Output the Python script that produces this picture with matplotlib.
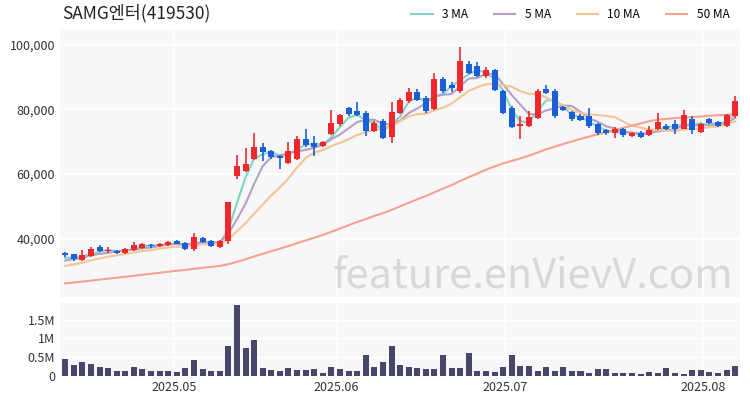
import numpy as np
import pandas as pd
import matplotlib.pyplot as plt

plt.rcParams['font.family'] = ['Noto Sans CJK KR', 'DejaVu Sans']

# closes before the visible window (only used for moving averages)
prev_closes = [20.5, 21.0, 20.8, 21.3, 21.6, 21.2, 21.9, 22.4, 22.1, 22.6, 23.0, 22.7, 23.3,
               23.6, 23.2, 23.9, 24.3, 24.0, 24.6, 24.9, 24.5, 25.2, 25.6, 25.3, 25.9, 26.2,
               25.8, 26.5, 26.9, 26.6, 27.2, 27.5, 27.1, 27.8, 28.2, 27.9, 28.5, 28.8, 28.4,
               29.1, 29.5, 29.2, 29.8, 30.3, 30.9, 31.6, 32.4, 33.2, 34.0]

opens = [35.6, 35.1, 33.4, 34.5, 37.4, 36.3, 36.2, 35.5, 36.4, 37.2, 38.0, 37.6, 38.0, 39.3,
         38.6, 36.7, 40.2, 39.2, 37.4, 39.2, 59.5, 61.0, 64.6, 68.5, 67.2, 65.6, 63.4, 64.8,
         71.0, 69.5, 68.7, 72.3, 75.4, 80.5, 79.5, 79.0, 73.3, 76.3, 71.6, 79.0, 82.6, 85.3,
         83.6, 80.2, 89.4, 87.7, 85.6, 94.1, 93.3, 90.3, 92.3, 85.6, 80.5, 74.9, 74.9, 77.4,
         86.4, 85.8, 80.8, 79.2, 78.0, 78.0, 75.4, 73.6, 72.6, 74.1, 71.8, 72.8, 72.0, 73.8,
         74.9, 75.4, 74.1, 76.9, 73.0, 77.1, 76.1, 74.9, 78.0]
closes = [34.9, 33.6, 34.9, 36.9, 36.1, 36.6, 35.7, 36.7, 38.0, 38.2, 37.6, 38.3, 38.9, 38.5,
          36.9, 40.5, 39.0, 37.8, 39.2, 51.3, 62.6, 63.1, 68.5, 66.8, 65.3, 65.0, 67.2, 71.0,
          68.9, 68.5, 69.9, 75.7, 78.2, 78.5, 78.2, 73.3, 75.9, 71.2, 79.2, 82.9, 85.3, 82.9,
          79.5, 89.4, 85.6, 86.7, 94.9, 91.3, 90.3, 92.3, 86.0, 79.0, 74.7, 75.4, 77.7, 85.6,
          85.1, 77.9, 79.8, 76.9, 76.7, 74.9, 72.8, 72.6, 73.8, 72.0, 72.6, 71.6, 73.6, 76.1,
          74.1, 73.8, 78.2, 73.6, 75.4, 75.9, 74.9, 78.2, 82.6]
highs = [35.9, 35.4, 36.6, 37.3, 38.1, 37.4, 36.5, 37.0, 39.0, 38.7, 38.3, 38.7, 39.3, 39.6,
         38.9, 41.8, 40.5, 39.5, 39.5, 51.5, 65.8, 68.0, 72.6, 69.5, 67.6, 65.9, 69.9, 71.8,
         73.8, 71.9, 70.3, 79.7, 78.6, 80.7, 82.2, 79.5, 76.5, 77.0, 82.3, 83.5, 86.5, 86.2,
         84.3, 91.4, 90.0, 88.6, 99.3, 95.0, 94.7, 93.0, 92.6, 86.0, 81.0, 78.0, 79.5, 86.4,
         87.6, 86.2, 81.2, 79.6, 78.5, 80.5, 75.8, 74.0, 74.7, 74.4, 72.9, 73.2, 74.8, 79.0,
         75.6, 76.7, 79.7, 78.0, 75.8, 77.4, 76.5, 78.7, 84.2]
lows = [34.4, 33.2, 33.0, 34.2, 35.8, 35.6, 35.4, 35.2, 36.1, 36.9, 37.2, 37.3, 37.7, 38.2,
        36.5, 36.3, 38.7, 37.5, 37.0, 38.5, 58.4, 60.6, 64.2, 64.0, 64.8, 61.6, 63.0, 64.4,
        68.5, 65.7, 68.4, 72.0, 75.0, 78.1, 77.9, 71.8, 73.0, 71.0, 69.5, 78.5, 81.9, 82.5,
        79.0, 79.8, 85.2, 85.5, 85.2, 91.0, 89.9, 89.6, 85.7, 78.6, 74.3, 71.0, 74.6, 77.0,
        84.7, 77.5, 79.4, 76.4, 76.3, 74.3, 72.2, 72.2, 71.1, 71.6, 71.6, 71.3, 71.7, 73.5,
        73.7, 72.3, 73.8, 72.3, 72.6, 75.5, 74.5, 74.6, 77.3]
volumes = [0.45, 0.29, 0.36, 0.32, 0.24, 0.21, 0.12, 0.12, 0.25, 0.18, 0.12, 0.12, 0.13, 0.11,
           0.20, 0.43, 0.18, 0.13, 0.13, 0.79, 1.90, 0.74, 0.96, 0.20, 0.16, 0.13, 0.20, 0.16,
           0.16, 0.18, 0.09, 0.24, 0.18, 0.13, 0.13, 0.55, 0.25, 0.38, 0.79, 0.28, 0.24, 0.22,
           0.18, 0.18, 0.56, 0.21, 0.21, 0.60, 0.14, 0.14, 0.11, 0.23, 0.55, 0.26, 0.26, 0.14,
           0.23, 0.12, 0.24, 0.14, 0.12, 0.07, 0.19, 0.19, 0.09, 0.09, 0.09, 0.06, 0.11, 0.09,
           0.20, 0.07, 0.06, 0.16, 0.16, 0.11, 0.09, 0.16, 0.26]
month_pos = [12.7, 31.6, 51.2, 74.3]
month_labels = ['2025.05', '2025.06', '2025.07', '2025.08']
ma_windows = [3, 5, 10, 50]
ma_colors = ['#7fd4c1', '#b3a0c6', '#f3c593', '#f4a38e']

opens = np.array(opens) * 1000
closes = np.array(closes) * 1000
highs = np.array(highs) * 1000
lows = np.array(lows) * 1000
volumes = np.array(volumes) * 1e6
n = len(closes)
x = np.arange(n)

all_close = pd.Series(np.concatenate([np.array(prev_closes) * 1000, closes]))

fig = plt.figure(figsize=(7.5, 4), dpi=100)
ax = fig.add_axes([0.08, 0.258, 0.907, 0.667])
axv = fig.add_axes([0.08, 0.06, 0.907, 0.183], sharex=ax)
bg = '#f7f7f9'
for a in (ax, axv):
    a.set_facecolor(bg)
    for s in a.spines.values():
        s.set_visible(False)
    a.tick_params(length=0, labelsize=9, colors='#333333')
    for p in month_pos:
        a.axvline(p, color='white', lw=1.2, zorder=0)

for w, c in zip(ma_windows, ma_colors):
    ma = all_close.rolling(w).mean().values[-n:]
    ax.plot(x, ma, color=c, lw=1.5, label=f'{w} MA', zorder=2)

up_c, dn_c = '#f0282d', '#1a5fd6'
for i in range(n):
    c = up_c if closes[i] >= opens[i] else dn_c
    ax.vlines(x[i], lows[i], highs[i], color=c, lw=1.2, zorder=3)
    lo, hi = sorted([opens[i], closes[i]])
    ax.bar(x[i], max(hi - lo, 250), bottom=lo, width=0.7, color=c, zorder=4)

ax.set_ylim(22000, 104600)
ax.set_yticks([40000, 60000, 80000, 100000])
ax.set_yticklabels(['40,000', '60,000', '80,000', '100,000'])
ax.yaxis.grid(True, color='white', lw=1.2)
ax.set_axisbelow(True)
ax.set_xlim(-0.6, n - 0.4)
plt.setp(ax.get_xticklabels(), visible=False)

ax.text(0.003, 1.03, 'SAMG엔터(419530)', transform=ax.transAxes, fontsize=12.5,
        color='#222222', va='bottom')
ax.legend(loc='lower right', bbox_to_anchor=(1.0, 0.995), ncol=4, frameon=False,
          fontsize=8.5, handlelength=1.8, columnspacing=2.2)
ax.text(0.99, 0.0, 'feature.enVievV.com', transform=ax.transAxes, fontsize=30,
        color='#d8d8d8', ha='right', va='bottom', zorder=1)

axv.bar(x, volumes, width=0.7, color='#474769')
axv.set_ylim(0, 1.95e6)
axv.set_yticks([0, 0.5e6, 1e6, 1.5e6])
axv.set_yticklabels(['0', '0.5M', '1M', '1.5M'])
axv.set_xticks(month_pos)
axv.set_xticklabels(month_labels)
axv.yaxis.grid(True, color='white', lw=1.0)
axv.set_axisbelow(True)

fig.savefig('out.png')
